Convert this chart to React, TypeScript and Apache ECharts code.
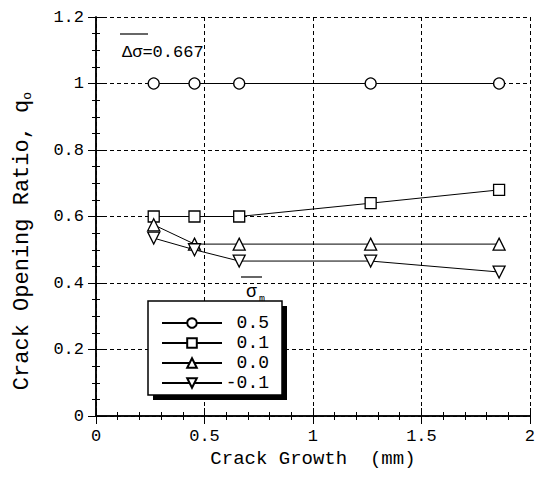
import React, { useEffect, useRef } from "react";
import * as echarts from "echarts";

const growth = [0.266, 0.454, 0.66, 1.266, 1.858];
const seriesNames = ["0.5", "0.1", "0.0", "-0.1"];
const q05 = [1.0, 1.0, 1.0, 1.0, 1.0];
const q01 = [0.6, 0.6, 0.6, 0.64, 0.68];
const q00 = [0.575, 0.517, 0.517, 0.517, 0.517];
const qm01 = [0.535, 0.5, 0.466, 0.466, 0.433];
const xTicks = [0, 0.5, 1, 1.5, 2];
const yTicks = [0, 0.2, 0.4, 0.6, 0.8, 1, 1.2];

const FONT = "Liberation Mono";

export default function App() {
  const ref = useRef<HTMLDivElement>(null);
  useEffect(() => {
    if (!ref.current) return;
    const chart = echarts.init(ref.current, null, { renderer: "svg" });
    const values = [q05, q01, q00, qm01];
    const symbols = ["circle", "rect", "triangle", "path://M0,0L10,0L5,9Z"];
    const sizes = [11, 11, 12, 12];
    const axisLine = { show: true, lineStyle: { color: "#000", width: 1.5 } };
    const fmtX = (v: number) => String(xTicks.find((t) => Math.abs(t - v) < 1e-6) ?? v);
    const fmtY = (v: number) => String(yTicks.find((t) => Math.abs(t - v) < 1e-6) ?? v);
    chart.setOption({
      animation: false,
      backgroundColor: "#fff",
      grid: { left: 96, right: 6, top: 17, bottom: 78, containLabel: false },
      xAxis: [
        {
          type: "value", min: 0, max: 2, interval: 0.5, position: "bottom",
          axisLine, axisTick: { inside: true, length: 8, lineStyle: { color: "#000" } },
          minorTick: { show: true, splitNumber: 5, length: 4, lineStyle: { color: "#000" } },
          splitLine: { show: true, lineStyle: { color: "#000", type: [4, 3], width: 1 } },
          axisLabel: { formatter: fmtX, color: "#000", fontFamily: FONT, fontSize: 17, margin: 12 },
          name: "Crack Growth  (mm)", nameLocation: "middle", nameGap: 33,
          nameTextStyle: { color: "#000", fontFamily: FONT, fontSize: 19 },
        },
        {
          type: "value", min: 0, max: 2, interval: 0.5, position: "top",
          axisLine, axisTick: { inside: true, length: 8, lineStyle: { color: "#000" } },
          minorTick: { show: true, splitNumber: 5, length: 4, lineStyle: { color: "#000" } },
          splitLine: { show: false }, axisLabel: { show: false },
        },
      ],
      yAxis: [
        {
          type: "value", min: 0, max: 1.2, interval: 0.2, position: "left",
          axisLine, axisTick: { inside: true, length: 8, lineStyle: { color: "#000" } },
          minorTick: { show: true, splitNumber: 4, length: 4, lineStyle: { color: "#000" } },
          splitLine: { show: true, lineStyle: { color: "#000", type: [4, 3], width: 1 } },
          axisLabel: { formatter: fmtY, color: "#000", fontFamily: FONT, fontSize: 17, margin: 12 },
        },
        {
          type: "value", min: 0, max: 1.2, interval: 0.2, position: "right",
          axisLine, axisTick: { inside: true, length: 8, lineStyle: { color: "#000" } },
          minorTick: { show: true, splitNumber: 4, length: 4, lineStyle: { color: "#000" } },
          splitLine: { show: false }, axisLabel: { show: false },
        },
      ],
      legend: {
        z: 10,
        orient: "vertical",
        left: 161,
        top: 314,
        padding: 0,
        itemWidth: 60,
        itemHeight: 12,
        itemGap: 2,
        data: seriesNames,
        formatter: (n: string) => `{a|${n}}`,
        textStyle: {
          color: "#000", fontFamily: FONT, fontSize: 18, lineHeight: 16,
          rich: { a: { width: 42, align: "right", fontFamily: FONT, fontSize: 18, lineHeight: 16, color: "#000" } },
        },
      },
      graphic: [
        { type: "rect", z: 5, shape: { x: 153, y: 306, width: 134, height: 94 }, style: { fill: "#000" } },
        { type: "rect", z: 5, shape: { x: 148, y: 301, width: 134, height: 94 }, style: { fill: "#fff", stroke: "#000", lineWidth: 1.5 } },
        { type: "line", z: 5, shape: { x1: 241, y1: 277, x2: 262, y2: 277 }, style: { stroke: "#000", lineWidth: 1.2 } },
        { type: "text", z: 5, x: 246, y: 283, style: { text: "σ", fontFamily: FONT, fontSize: 18, fill: "#000" } },
        { type: "text", z: 4, x: 259, y: 294, style: { text: "m", fontFamily: FONT, fontSize: 10, fill: "#000" } },
        { type: "line", z: 5, shape: { x1: 120, y1: 34, x2: 148, y2: 34 }, style: { stroke: "#000", lineWidth: 1.2 } },
        { type: "text", z: 5, x: 122, y: 44, style: { text: "Δσ=0.667", fontFamily: FONT, fontSize: 17, fill: "#000", backgroundColor: "#fff" } },
        {
          type: "text", z: 5, x: 22, y: 241, rotation: Math.PI / 2,
          style: {
            text: "Crack Opening Ratio, q{sub|o}", fontFamily: FONT, fontSize: 22, fill: "#000",
            align: "center", verticalAlign: "middle",
            rich: { sub: { fontFamily: FONT, fontSize: 13, fill: "#000", padding: [10, 0, 0, 0] } },
          },
        },
      ],
      series: seriesNames.map((name, i) => ({
        name,
        type: "line",
        xAxisIndex: 0,
        yAxisIndex: 0,
        z: 3,
        data: growth.map((x, j) => [x, values[i][j]]),
        symbol: symbols[i],
        symbolSize: sizes[i],
        showSymbol: true,
        lineStyle: { color: "#000", width: 1 },
        itemStyle: { color: "#fff", borderColor: "#000", borderWidth: 1.3 },
      })),
    });
    return () => chart.dispose();
  }, []);
  return <div ref={ref} style={{ width: 538, height: 494, position: "absolute", left: 0, top: 0 }} />;
}
